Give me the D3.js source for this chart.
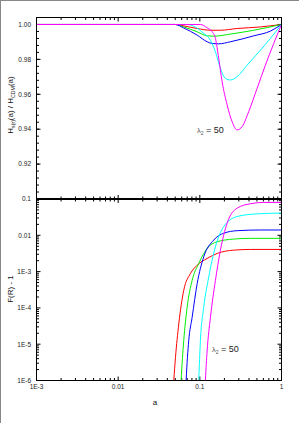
<!DOCTYPE html>
<html><head><meta charset="utf-8">
<script src="https://cdn.jsdelivr.net/npm/d3@7"></script>
<style>
html,body{margin:0;padding:0;background:#fff;}
svg{display:block;font-family:"Liberation Sans",Arial,sans-serif;}
</style></head>
<body>
<svg id="c" width="299" height="423"></svg>
<script>
// ---------- data ----------
const seriesNames = ["red","green","blue","cyan","magenta"];
const seriesColors = ["#ff0000","#00ee00","#0000ff","#00ffff","#ff00ff"];

// Top panel: H_s(r)(a)/H_CDM(a)  as [a, ratio]
const topRed     = [[0.001,1],[0.05,1],[0.0635,0.9992],[0.0927,0.9977],[0.1349,0.9967],[0.1787,0.9967],[0.2862,0.9977],[0.552,0.9986],[1,1]];
const topGreen   = [[0.001,1],[0.05,1],[0.0635,0.9986],[0.0927,0.9958],[0.1228,0.9935],[0.148,0.9933],[0.237,0.9945],[0.457,0.9967],[1,1]];
const topBlue    = [[0.001,1],[0.05,1],[0.0635,0.9980],[0.0927,0.9939],[0.1228,0.9901],[0.1416,0.9891],[0.1703,0.9889],[0.237,0.9901],[0.457,0.9935],[0.731,0.9962],[1,1]];
const topCyan    = [[0.001,1],[0.07,1],[0.0841,0.9990],[0.1116,0.9949],[0.1349,0.9910],[0.1552,0.9843],[0.1787,0.9749],[0.2057,0.9691],[0.237,0.9682],[0.2862,0.9701],[0.3794,0.9767],[0.552,0.9853],[0.731,0.9920],[1,1]];
const topMagenta = [[0.001,1],[0.1016,1],[0.1228,0.9981],[0.1416,0.9958],[0.1552,0.9920],[0.1703,0.9806],[0.1875,0.9672],[0.2158,0.9539],[0.2485,0.9443],[0.2862,0.9396],[0.3296,0.9415],[0.397,0.9501],[0.5026,0.9634],[0.635,0.9767],[0.803,0.9891],[1,1]];

// Bottom panel: F(R) - 1  as [a, value]
const botRed     = [[0.0465,3e-7],[0.048,1e-6],[0.0503,4.25e-6],[0.0552,3.6e-5],[0.0635,3.03e-4],[0.0767,8.8e-4],[0.0927,1.5e-3],[0.1228,2.3e-3],[0.163,3.16e-3],[0.26,3.9e-3],[0.416,4.08e-3],[1,4.08e-3]];
const botGreen   = [[0.0575,3e-7],[0.059,1e-6],[0.0635,1.24e-5],[0.0699,1.04e-4],[0.0805,5.73e-4],[0.097,1.67e-3],[0.1228,4.35e-3],[0.163,6.64e-3],[0.26,7.88e-3],[0.416,8.25e-3],[1,8.25e-3]];
const botBlue    = [[0.0665,3e-7],[0.068,1e-6],[0.0731,1.24e-5],[0.0805,5.5e-5],[0.0927,4.64e-4],[0.1116,2.55e-3],[0.148,7.4e-3],[0.196,1.14e-2],[0.2862,1.34e-2],[0.552,1.40e-2],[1,1.40e-2]];
const botCyan    = [[0.095,3e-7],[0.097,1e-6],[0.1016,1.24e-5],[0.1116,1.04e-4],[0.1285,7.08e-4],[0.1552,4.82e-3],[0.196,1.73e-2],[0.2862,3.29e-2],[0.5026,3.9e-2],[1,4.08e-2]];
const botMagenta = [[0.1145,3e-7],[0.117,1e-6],[0.1228,6.5e-6],[0.1349,5.5e-5],[0.1552,5.73e-4],[0.1787,3.9e-3],[0.2158,2.15e-2],[0.2862,5.6e-2],[0.416,7.4e-2],[0.606,8.05e-2],[1,8.05e-2]];

const topSeries = [topRed, topGreen, topBlue, topCyan, topMagenta];
const botSeries = [botRed, botGreen, botBlue, botCyan, botMagenta];

const xTickValues = [0.001, 0.01, 0.1, 1];
const xTickLabels = ["1E-3", "0.01", "0.1", "1"];
const topYTickValues = [0.92, 0.94, 0.96, 0.98, 1.00];
const topYTickLabels = ["0.92", "0.94", "0.96", "0.98", "1.00"];
const botYTickValues = [1e-6, 1e-5, 1e-4, 1e-3, 0.01, 0.1];
const botYTickLabels = ["1E-6", "1E-5", "1E-4", "1E-3", "0.01", "0.1"];

// ---------- layout ----------
const svg = d3.select("#c");
const L = 36.5, R = 281.5, T1 = 17.5, B1 = 199, T2 = 199, B2 = 380.5;

svg.append("rect").attr("x",0).attr("y",0).attr("width",299).attr("height",423).attr("fill","#fff");
svg.append("line").attr("x1",0.5).attr("x2",0.5).attr("y1",0).attr("y2",423).attr("stroke","#888");
svg.append("line").attr("x1",0).attr("x2",299).attr("y1",0.5).attr("y2",0.5).attr("stroke","#888");

const x = d3.scaleLog().domain([0.001, 1]).range([L, R]);
const yTop = d3.scaleLinear().domain([0.9, 1.004]).range([B1, T1]);
const yBot = d3.scaleLog().domain([1e-6, 0.1]).range([B2, T2]);

const defs = svg.append("defs");
defs.append("clipPath").attr("id","clipTop").append("rect").attr("x",L).attr("y",T1).attr("width",R-L).attr("height",B1-T1);
defs.append("clipPath").attr("id","clipBot").append("rect").attr("x",L).attr("y",T2).attr("width",R-L).attr("height",B2-T2);

// x minor ticks
const xMinor = [];
for (let e=-3;e<0;e++) for (let m=2;m<=9;m++) xMinor.push(m*Math.pow(10,e));

function xTicks(g, yPos, dir) {
  xTickValues.forEach(v => g.append("line").attr("x1",x(v)).attr("x2",x(v)).attr("y1",yPos).attr("y2",yPos+dir*4).attr("stroke","#000").attr("stroke-width",1));
  xMinor.forEach(v => g.append("line").attr("x1",x(v)).attr("x2",x(v)).attr("y1",yPos).attr("y2",yPos+dir*2.5).attr("stroke","#000").attr("stroke-width",1));
}

// ---------- top panel ----------
const gT = svg.append("g");
const topMinor = d3.range(0.904, 1.004, 0.004).map(v=>+v.toFixed(3));
[L, R].forEach((xp, i) => {
  const dir = i===0 ? 1 : -1;
  topMinor.forEach(v => gT.append("line").attr("x1",xp).attr("x2",xp+dir*2.5).attr("y1",yTop(v)).attr("y2",yTop(v)).attr("stroke","#000"));
  topYTickValues.forEach(v => gT.append("line").attr("x1",xp).attr("x2",xp+dir*4).attr("y1",yTop(v)).attr("y2",yTop(v)).attr("stroke","#000"));
});
xTicks(gT, T1, 1);
xTicks(gT, B1, -1);

const lineTop = d3.line().x(d=>x(d[0])).y(d=>yTop(d[1])).curve(d3.curveMonotoneX);
const curvesT = gT.append("g").attr("clip-path","url(#clipTop)");
topSeries.forEach((s,i)=>{
  curvesT.append("path").attr("d",lineTop(s)).attr("fill","none").attr("stroke",seriesColors[i]).attr("stroke-width",1);
});
gT.append("rect").attr("x",L).attr("y",T1).attr("width",R-L).attr("height",B1-T1).attr("fill","none").attr("stroke","#000").attr("stroke-width",1);

topYTickValues.forEach((v,i)=>{
  gT.append("text").attr("x",L-5.5).attr("y",yTop(v)+2.3).attr("text-anchor","end").attr("font-size",6.5).attr("fill","#222").text(topYTickLabels[i]);
});

// y title top
const tt = svg.append("text").attr("transform","translate(13,105) rotate(-90)").attr("text-anchor","middle").attr("font-size",8).attr("fill","#111");
tt.append("tspan").text("H");
tt.append("tspan").attr("font-size",5.2).attr("dy",2).text("s(r)");
tt.append("tspan").attr("dy",-2).text("(a) / H");
tt.append("tspan").attr("font-size",5.2).attr("dy",2).text("CDM");
tt.append("tspan").attr("dy",-2).text("(a)");

function lambdaLabel(xp, yp) {
  const t = svg.append("text").attr("x",xp).attr("y",yp).attr("font-size",9).attr("fill","#222");
  t.append("tspan").attr("font-size",7.5).attr("fill","#555").text("λ");
  t.append("tspan").attr("font-size",5).attr("dy",2.5).attr("fill","#555").text("2");
  t.append("tspan").attr("dy",-2.5).text(" = 50");
}
lambdaLabel(197, 132.5);

// ---------- bottom panel ----------
const gB = svg.append("g");
const botMinor = [];
for (let e=-6;e<-1;e++) for (let m=2;m<=9;m++) botMinor.push(m*Math.pow(10,e));
[L, R].forEach((xp, i) => {
  const dir = i===0 ? 1 : -1;
  botMinor.forEach(v => gB.append("line").attr("x1",xp).attr("x2",xp+dir*2.5).attr("y1",yBot(v)).attr("y2",yBot(v)).attr("stroke","#000"));
  botYTickValues.forEach(v => gB.append("line").attr("x1",xp).attr("x2",xp+dir*4).attr("y1",yBot(v)).attr("y2",yBot(v)).attr("stroke","#000"));
});
xTicks(gB, T2, 1);
xTicks(gB, B2, -1);

const lineBot = d3.line().x(d=>x(d[0])).y(d=>yBot(d[1])).curve(d3.curveMonotoneX);
const curvesB = gB.append("g").attr("clip-path","url(#clipBot)");
botSeries.forEach((s,i)=>{
  curvesB.append("path").attr("d",lineBot(s)).attr("fill","none").attr("stroke",seriesColors[i]).attr("stroke-width",1);
});
gB.append("rect").attr("x",L).attr("y",T2).attr("width",R-L).attr("height",B2-T2).attr("fill","none").attr("stroke","#000").attr("stroke-width",1);
// shared middle border, drawn heavier as in the reference
svg.append("line").attr("x1",L).attr("x2",R).attr("y1",B1).attr("y2",B1).attr("stroke","#000").attr("stroke-width",2);

botYTickValues.forEach((v,i)=>{
  gB.append("text").attr("x",L-5.5).attr("y",yBot(v)+2.3).attr("text-anchor","end").attr("font-size",6.5).attr("fill","#222").text(botYTickLabels[i]);
});
xTickValues.forEach((v,i)=>{
  gB.append("text").attr("x",x(v)).attr("y",B2+8.5).attr("text-anchor","middle").attr("font-size",6.5).attr("fill","#222").text(xTickLabels[i]);
});

svg.append("text").attr("transform","translate(13,289) rotate(-90)").attr("text-anchor","middle").attr("font-size",8).attr("fill","#111").text("F(R) - 1");
svg.append("text").attr("x",155).attr("y",405).attr("text-anchor","middle").attr("font-size",8).attr("fill","#111").text("a");

lambdaLabel(212, 351.5);
</script>
</body></html>
